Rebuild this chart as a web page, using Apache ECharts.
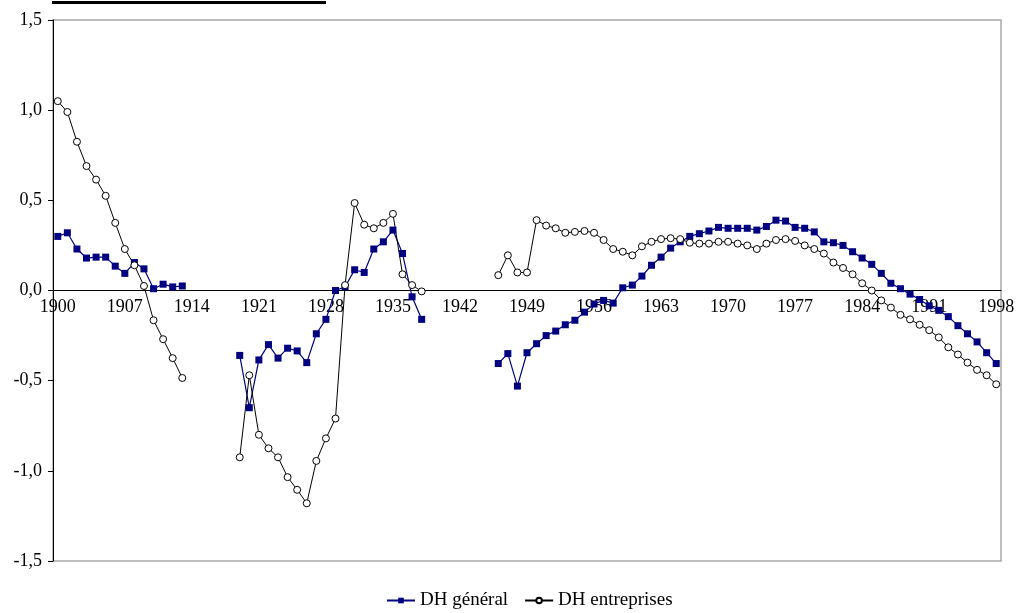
<!DOCTYPE html>
<html>
<head>
<meta charset="utf-8">
<script src="https://cdn.jsdelivr.net/npm/echarts@6/dist/echarts.min.js"></script>
<style>
    html, body { margin: 0; padding: 0; background: #fff; }
    #chart { width: 1018px; height: 613px; }
</style>
</head>
<body>
<div id="chart"></div>
<script>
// years 1900 .. 1998, one category per year
const years = Array.from({ length: 99 }, (_, i) => String(1900 + i))

const dhGeneral = [
    0.30, 0.32, 0.23, 0.18, 0.185, 0.185, 0.135, 0.095, 0.155, 0.12, 0.01, 0.035, 0.02, 0.025,
    null, null, null, null, null,
    -0.36, -0.65, -0.385, -0.30, -0.375, -0.32, -0.335, -0.40, -0.24, -0.16,
    0.0, 0.02, 0.115, 0.10, 0.23, 0.27, 0.335, 0.205, -0.035, -0.16,
    null, null, null, null, null, null, null,
    -0.405, -0.35, -0.53, -0.345, -0.295, -0.25, -0.225, -0.19, -0.165, -0.12,
    -0.075, -0.055, -0.07, 0.015, 0.03, 0.08, 0.14, 0.185, 0.235, 0.27,
    0.30, 0.315, 0.33, 0.35, 0.345,
    0.345, 0.345, 0.335, 0.355, 0.39, 0.385, 0.35, 0.345, 0.325, 0.27,
    0.265, 0.25, 0.215, 0.18, 0.145, 0.095, 0.04, 0.01, -0.02, -0.05,
    -0.085, -0.11, -0.145, -0.195, -0.24, -0.285, -0.345, -0.405,
]

const dhEntreprises = [
    1.05, 0.99, 0.825, 0.69, 0.615, 0.525, 0.375, 0.23, 0.14, 0.025, -0.165, -0.27, -0.375, -0.485,
    null, null, null, null, null,
    -0.925, -0.47, -0.80, -0.875, -0.925, -1.035, -1.105, -1.18, -0.945, -0.82,
    -0.71, 0.03, 0.485, 0.365, 0.345, 0.375, 0.425, 0.09, 0.03, -0.005,
    null, null, null, null, null, null, null,
    0.085, 0.195, 0.10, 0.10, 0.39, 0.36, 0.345, 0.32, 0.325, 0.33,
    0.32, 0.28, 0.23, 0.215, 0.195, 0.245, 0.27, 0.285, 0.29, 0.285,
    0.265, 0.26, 0.26, 0.27, 0.27,
    0.26, 0.25, 0.23, 0.26, 0.28, 0.285, 0.275, 0.25, 0.23, 0.205,
    0.155, 0.125, 0.09, 0.04, 0.0, -0.055, -0.095, -0.135, -0.16, -0.19,
    -0.22, -0.26, -0.315, -0.355, -0.40, -0.44, -0.47, -0.52,
]

const yMin = -1.5
const yMax = 1.5
const yStep = 0.5

const serif = "'Liberation Serif', 'Times New Roman', serif"

const gridTop = 20
const gridBottom = 52
const plotHeight = 613 - gridTop - gridBottom
// lift the category axis up to the zero line
const zeroOffset = -plotHeight * (0 - yMin) / (yMax - yMin)

let myChart = echarts.init(document.getElementById("chart"))
myChart.setOption({
    animation: false,
    backgroundColor: "#fff",
    textStyle: { fontFamily: serif },
    graphic: [
        {
            // dark rule left over at the very top of the picture
            type: "rect",
            shape: { x: 52, y: 1, width: 274, height: 3 },
            style: { fill: "#000" },
        },
    ],
    grid: {
        left: 53,
        right: 17,
        top: gridTop,
        bottom: gridBottom,
        show: true,
        borderColor: "#a8a8a8",
        borderWidth: 1.5,
    },
    legend: {
        bottom: -2,
        left: 381,
        itemWidth: 28,
        itemHeight: 7,
        itemGap: 16,
        textStyle: { fontFamily: serif, fontSize: 19, color: "#000" },
        data: ["DH général", "DH entreprises"],
    },
    xAxis: {
        type: "category",
        data: years,
        boundaryGap: true,
        position: "bottom",
        offset: zeroOffset,
        axisLine: { onZero: false, lineStyle: { color: "#000", width: 1 } },
        axisTick: { interval: 6, length: 5, lineStyle: { color: "#000" } },
        axisLabel: {
            interval: 6,
            margin: 8,
            fontFamily: serif,
            fontSize: 18,
            color: "#000",
        },
        splitLine: { show: false },
    },
    yAxis: {
        type: "value",
        min: yMin,
        max: yMax,
        interval: yStep,
        axisLine: { show: true, lineStyle: { color: "#000", width: 1 } },
        axisTick: { show: true, length: 5, lineStyle: { color: "#000" } },
        axisLabel: {
            margin: 11,
            fontFamily: serif,
            fontSize: 18,
            color: "#000",
            formatter: function (v) {
                return v.toFixed(1).replace(".", ",")
            },
        },
        splitLine: { show: false },
    },
    series: [
        {
            name: "DH général",
            type: "line",
            data: dhGeneral,
            connectNulls: false,
            symbol: "rect",
            symbolSize: 7,
            showAllSymbol: true,
            lineStyle: { color: "#000080", width: 1.2 },
            itemStyle: { color: "#000080", borderColor: "#000080", borderWidth: 0 },
        },
        {
            name: "DH entreprises",
            type: "line",
            data: dhEntreprises,
            connectNulls: false,
            symbol: "circle",
            symbolSize: 7,
            showAllSymbol: true,
            lineStyle: { color: "#000", width: 1 },
            itemStyle: { color: "#fff", borderColor: "#000", borderWidth: 1 },
        },
    ],
})
window.addEventListener("resize", function () {
    myChart.resize()
})
</script>
</body>
</html>
